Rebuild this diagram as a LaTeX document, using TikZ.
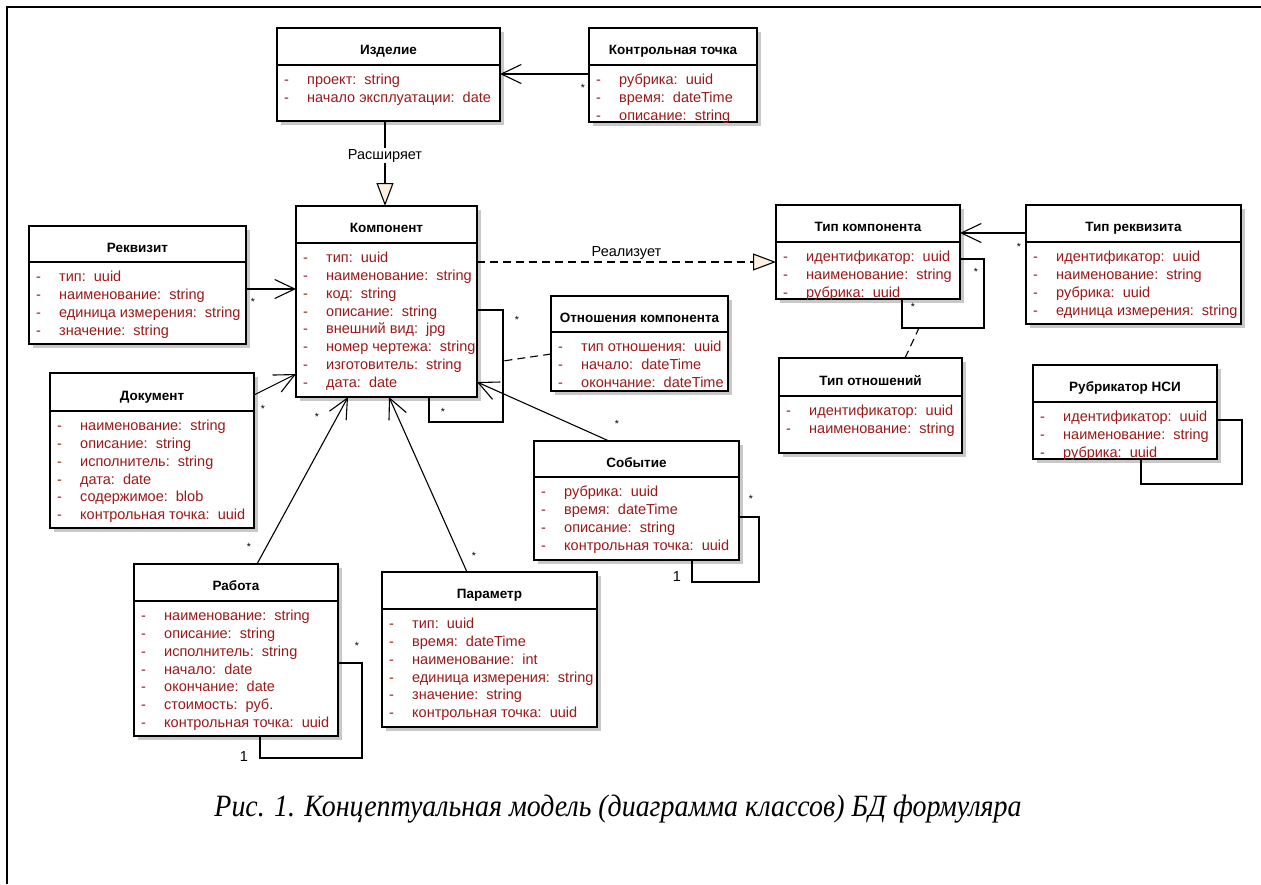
\documentclass[tikz,border=0pt]{standalone}
\usepackage{fontspec}
\usepackage{graphicx}
\setmainfont{Liberation Sans}
\newfontfamily\captionfont{Liberation Serif}
\usetikzlibrary{arrows.meta}

\definecolor{attrred}{RGB}{155,25,25}
\definecolor{shadowgray}{RGB}{200,200,200}
\definecolor{genfill}{RGB}{253,240,225}

\tikzset{
  classbox/.style={draw, fill=white, line width=1.3pt, inner sep=0pt, outer sep=0pt},
  classtitle/.style={font=\fontsize{13.5}{15}\selectfont\bfseries, inner sep=0pt, text height=9.8pt, text depth=0pt},
  attr/.style={font=\fontsize{14.5}{16}\selectfont, text=attrred, inner sep=0pt, text height=10.5pt, text depth=3.3pt, anchor=west},
  mult/.style={font=\fontsize{10.5}{12}\selectfont, inner sep=0pt},
  assoc/.style={line width=1.1pt, -{Straight Barb[length=20pt,width=19pt]}},
  gener/.style={line width=1.1pt, -{Triangle[length=23pt,width=17pt,fill=genfill]}},
  link/.style={line width=1.1pt},
  lbl/.style={font=\fontsize{14.5}{16}\selectfont, inner sep=1pt},
}

% class box: name, left, top, right, bottom, divider, title, attributes
\newcommand{\umlclass}[8]{%
  \fill[shadowgray] ({#2+4},{#3+4}) rectangle ({#4+4},{#5+4});
  \node[classbox, minimum width={(#4-#2)*1pt}, minimum height={(#5-#3)*1pt}] (#1) at ({(#2+#4)/2},{(#3+#5)/2}) {};
  \draw[line width=1.3pt] (#1.west |- 0,#6) -- (#1.east |- 0,#6);
  \node[classtitle] (#1-title) at ({(#2+#4)/2},{(#3+#6)/2+3.5}) {#7};
  \foreach \a [count=\i] in {#8} {
    \node[attr] at ({#2+7},{#6+16+(\i-1)*17.8}) {-};
    \node[attr] (#1-\i) at ({#2+30},{#6+16+(\i-1)*17.8}) {\a};
  }
}

\begin{document}
\begin{tikzpicture}[x=1pt, y=-1pt]
\useasboundingbox (0,0) rectangle (1261,884);
\draw[line width=2pt] (7,884) -- (7,7) -- (1261,7);

% classes
\umlclass{izdelie}{277}{28}{500}{121}{65}{Изделие}{проект:~~string, начало эксплуатации:~~date}
\umlclass{ktochka}{589}{28}{757}{122}{65}{Контрольная точка}{рубрика:~~uuid, время:~~dateTime, описание:~~string}
\umlclass{komponent}{296}{206}{477}{397}{243}{Компонент}{тип:~~uuid, наименование:~~string, код:~~string, описание:~~string, внешний вид:~~jpg, номер чертежа:~~string, изготовитель:~~string, дата:~~date}
\umlclass{rekvizit}{29}{226}{246}{344}{262}{Реквизит}{тип:~~uuid, наименование:~~string, единица измерения:~~string, значение:~~string}
\umlclass{dokument}{50}{373}{254}{528}{411}{Документ}{наименование:~~string, описание:~~string, исполнитель:~~string, дата:~~date, содержимое:~~blob, контрольная точка:~~uuid}
\umlclass{rabota}{134}{564}{338}{736}{601}{Работа}{наименование:~~string, описание:~~string, исполнитель:~~string, начало:~~date, окончание:~~date, стоимость:~~руб., контрольная точка:~~uuid}
\umlclass{parametr}{382}{572}{597}{727}{609}{Параметр}{тип:~~uuid, время:~~dateTime, наименование:~~int, единица измерения:~~string, значение:~~string, контрольная точка:~~uuid}
\umlclass{sobytie}{534}{441}{739}{560}{477}{Событие}{рубрика:~~uuid, время:~~dateTime, описание:~~string, контрольная точка:~~uuid}
\umlclass{otnkomp}{551}{296}{728}{391}{332}{Отношения компонента}{тип отношения:~~uuid, начало:~~dateTime, окончание:~~dateTime}
\umlclass{tipkomp}{776}{205}{960}{299}{242}{Тип компонента}{идентификатор:~~uuid, наименование:~~string, рубрика:~~uuid}
\umlclass{tiprekv}{1026}{205}{1241}{324}{242}{Тип реквизита}{идентификатор:~~uuid, наименование:~~string, рубрика:~~uuid, единица измерения:~~string}
\umlclass{tipotn}{779}{358}{962}{453}{396}{Тип отношений}{идентификатор:~~uuid, наименование:~~string}
\umlclass{rubrikator}{1033}{365}{1217}{459}{402}{Рубрикатор НСИ}{идентификатор:~~uuid, наименование:~~string, рубрика:~~uuid}

% associations
\draw[assoc] (ktochka.west |- 0,74) -- (izdelie.east |- 0,74);
\node[mult] at (583,88) {*};
\draw[gener] (izdelie.south -| 385,0) -- (komponent.north -| 385,0) node[lbl, fill=white, pos=0.41] {Расширяет};
\draw[gener, dash pattern=on 8pt off 5pt] (komponent.east |- 0,262) -- (tipkomp.west |- 0,262) node[lbl, midway, anchor=south, yshift=1pt] {Реализует};
\draw[assoc] (rekvizit.east |- 0,289) -- (komponent.west |- 0,289);
\node[mult] at (253,302) {*};
\draw[assoc] (dokument.east |- 0,395) -- (komponent.west |- 0,374);
\node[mult] at (263,409) {*};
\draw[assoc] (rabota.north -| 257,0) -- (komponent.south -| 348,0);
\node[mult] at (249,547) {*};
\node[mult] at (317,417) {*};
\draw[assoc] (parametr.north -| 467,0) -- (komponent.south -| 389,0);
\node[mult] at (474,556) {*};
\draw[assoc] (sobytie.north -| 609,0) -- (komponent.east |- 0,382);
\node[mult] at (617,424) {*};

% self links
\coordinate (kloop) at (503,422);
\draw[link] (komponent.east |- 0,310) -| (kloop) -| (komponent.south -| 429,0);
\node[mult] at (517,320) {*};
\node[mult] at (443,412) {*};
\draw[link, dash pattern=on 8pt off 5pt] (otnkomp.west |- 0,354) -- (kloop |- 0,361);
\coordinate (sloop) at (759,582);
\draw[link] (sobytie.east |- 0,517) -| (sloop) -| (sobytie.south -| 692,0);
\node[mult] at (751,499) {*};
\node[lbl] at (677,577) {1};
\coordinate (rloop) at (362,758);
\draw[link] (rabota.east |- 0,663) -| (rloop) -| (rabota.south -| 260,0);
\node[mult] at (357,646) {*};
\node[lbl] at (244,756) {1};
\draw[assoc] (tiprekv.west |- 0,233) -- (tipkomp.east |- 0,233);
\node[mult] at (1019,247) {*};
\coordinate (tloop) at (984,328);
\draw[link] (tipkomp.east |- 0,259) -| (tloop) -| (tipkomp.south -| 902,0);
\node[mult] at (976,272) {*};
\node[mult, fill=white] at (913,307) {*};
\draw[link, dash pattern=on 8pt off 5pt] (tipotn.north -| 905,0) -- (tloop -| 919,0);
\coordinate (nloop) at (1242,484);
\draw[link] (rubrikator.east |- 0,420) -| (nloop) -| (rubrikator.south -| 1141,0);

% caption
\node (caption) at (618,809) {\resizebox{807pt}{\height}{\fontsize{31}{34}\captionfont\itshape Рис. 1. Концептуальная модель (диаграмма классов) БД формуляра}};
\end{tikzpicture}
\end{document}
